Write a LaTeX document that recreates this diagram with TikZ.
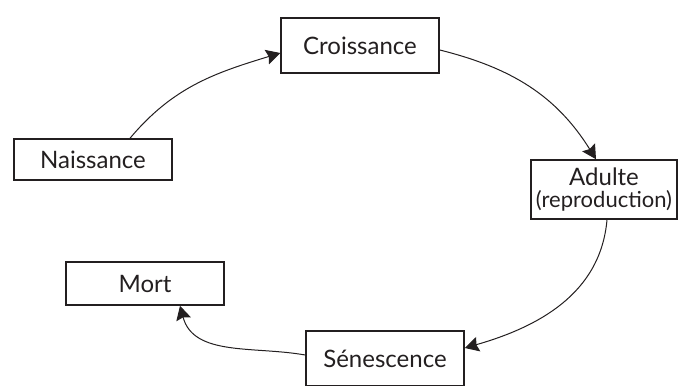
\documentclass[tikz,border=0pt]{standalone}
\usepackage{fontspec}
\setmainfont{Lato}
\usetikzlibrary{arrows.meta}

\begin{document}
\begin{tikzpicture}[x=0.5pt,y=0.5pt,
  box/.style={draw=mycolor1,rectangle,line width=0.75pt,minimum width=79pt,inner sep=0pt,
    text=mycolor1,align=center,font=\fontsize{12}{11}\selectfont},
  arr/.style={-{Stealth[length=7pt,width=7.5pt,inset=1pt]},draw=mycolor1,line width=0.5pt}]
\definecolor{mycolor1}{HTML}{231F20}
\useasboundingbox (0,0) rectangle (678,385);

\node[box,minimum height=20.5pt] (s_0) at (93,225.5) {Naissance};
\node[box,minimum height=27.5pt] (s_1) at (360,339.5) {Croissance};
\node[box,minimum width=73pt,minimum height=29.5pt] (s_2) at (604,195.5) {Adulte\\{\fontsize{11}{11}\selectfont(reproduction)}};
\node[box,minimum height=27.5pt] (s_3) at (385,26.5) {Sénescence};
\node[box,minimum height=21.5pt] (s_4) at (145,101.5) {Mort};

\draw[arr] ([xshift=18.5pt]s_0.north) to[out=50,in=197] ([yshift=-3.75pt]s_1.west);
\draw[arr] ([yshift=-2.25pt]s_1.east) to[out=-14,in=122] ([xshift=-4pt]s_2.north);
\draw[arr] ([xshift=1.5pt]s_2.south) to[out=-95,in=16] ([yshift=5.25pt]s_3.east);
\draw[arr] ([yshift=1.75pt]s_3.west) to[out=170,in=-75] ([xshift=17.5pt]s_4.south);

\end{tikzpicture}
\end{document}
